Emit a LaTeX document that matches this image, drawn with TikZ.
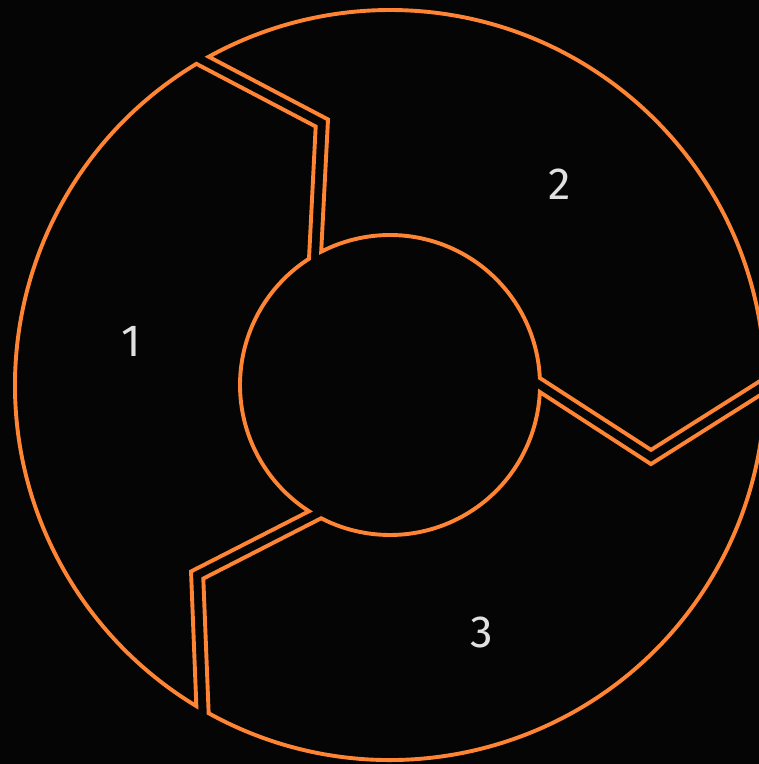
\documentclass[tikz,border=0pt]{standalone}
\usepackage{fontspec}
\setmainfont{Fira Sans}
\begin{document}
\begin{tikzpicture}[x=1pt,y=1pt,
  seg/.style={draw=ringorange, line width=3.9pt, line join=miter},
  num/.style={text=numgrey, font=\fontsize{45}{45}\selectfont, inner sep=0pt}]
\definecolor{ringorange}{HTML}{FF8534}
\definecolor{numgrey}{HTML}{E2E0E0}
\definecolor{bgblack}{HTML}{050505}
\useasboundingbox (0,0) rectangle (759,764);
\fill[bgblack] (0,0) rectangle (759,764);
\clip (0,0) rectangle (759,764);
\begin{scope}[shift={(390,379)}]
  \foreach \a in {0,120,240}{
    \draw[seg] ({\a+2.69}:150) -- ({\a-13.96}:268.95) -- ({\a+1.08}:375)
      arc[start angle={\a+1.08}, end angle={\a+118.91}, radius=375pt]
      -- ({\a+103.14}:272.7) -- ({\a+117.31}:150)
      arc[start angle={\a+117.31}, end angle={\a+2.69}, radius=150pt] -- cycle;
  }
\end{scope}
\node[num] (n1) at (131,423) {1};
\node[num] (n2) at (560,580) {2};
\node[num] (n3) at (482,132) {3};
\end{tikzpicture}
\end{document}
